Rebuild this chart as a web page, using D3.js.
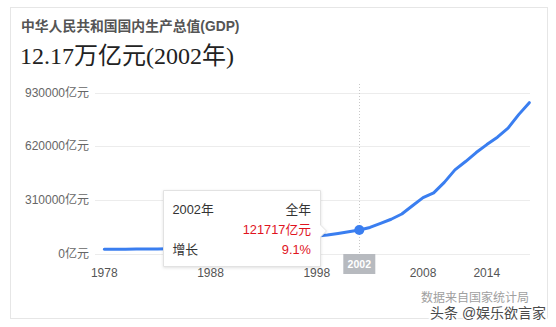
<!DOCTYPE html>
<html>
<head>
<meta charset="utf-8">
<script src="https://cdn.jsdelivr.net/npm/d3@7"></script>
<style>
  html, body { margin: 0; padding: 0; background: #ffffff; }
  svg { display: block; }
  text { font-family: Arial, "Liberation Sans", "Noto Sans CJK SC", sans-serif; }
</style>
</head>
<body>
<svg id="chart" width="556" height="327"></svg>
<script>
// China GDP, 1978-2018 (亿元)
const years = d3.range(1978, 2019);
const gdp = [
  3679, 4101, 4588, 4936, 5373, 6021, 7279, 9099, 10376, 12175,
  15180, 17180, 18873, 22006, 27195, 35673, 48638, 61340, 71814, 79715,
  85196, 90564, 100280, 110863, 121717, 137422, 161840, 187319, 219439, 270232,
  319516, 349081, 413030, 489301, 540367, 595244, 643974, 689052, 744127, 827122,
  900309
];
const yTicks = [0, 310000, 620000, 930000];
const xTicks = [1978, 1988, 1998, 2008, 2014];

// highlighted year and its growth rate
const focusYear = 2002;
const focusGrowth = "9.1%";

const title = "中华人民共和国国内生产总值(GDP)";
const source = "数据来自国家统计局";
const watermark = "头条 @娱乐欲言家";

const svg = d3.select("#chart");

// card
svg.append("rect")
  .attr("x", 10.5).attr("y", 7.5).attr("width", 537).attr("height", 311)
  .attr("fill", "#fff").attr("stroke", "#e6e6e6");

svg.append("text")
  .attr("x", 21).attr("y", 31)
  .attr("font-size", 13.8).attr("font-weight", "bold").attr("fill", "#555")
  .text(title);

const focusIdx = years.indexOf(focusYear);
const focusVal = gdp[focusIdx];

svg.append("text")
  .attr("x", 20).attr("y", 64)
  .attr("font-size", 24).attr("fill", "#222")
  .style("font-family", "'Liberation Serif', 'Times New Roman', 'Noto Sans CJK SC', serif")
  .text(`${(focusVal / 10000).toFixed(2)}万亿元(${focusYear}年)`);

// scales: gridlines use the outer band, the series sits slightly inset
const x = d3.scaleLinear().domain([1978, 2018]).range([104.3, 529.3]);
const yGrid = d3.scaleLinear().domain([0, 930000]).range([253.5, 92.5]);
const y = d3.scaleLinear().domain([0, 930000]).range([249.9, 97.8]);

// horizontal gridlines + labels
const grid = svg.append("g");
grid.selectAll("line").data(yTicks).join("line")
  .attr("x1", 95).attr("x2", 530)
  .attr("y1", d => Math.round(yGrid(d)) + 0.5).attr("y2", d => Math.round(yGrid(d)) + 0.5)
  .attr("stroke", "#ececec").attr("stroke-width", 1);
grid.selectAll("text").data(yTicks).join("text")
  .attr("x", 89).attr("y", d => yGrid(d) + 4)
  .attr("text-anchor", "end").attr("font-size", 12).attr("fill", "#666")
  .text(d => d + "亿元");

// x tick labels
svg.append("g").selectAll("text").data(xTicks).join("text")
  .attr("x", d => x(d)).attr("y", 277)
  .attr("text-anchor", "middle").attr("font-size", 12).attr("fill", "#555")
  .text(d => d);

// dotted crosshair
svg.append("line")
  .attr("x1", Math.round(x(focusYear)) + 0.5).attr("x2", Math.round(x(focusYear)) + 0.5)
  .attr("y1", 84).attr("y2", 254)
  .attr("stroke", "#c8c8c8").attr("stroke-width", 1).attr("stroke-dasharray", "1,2");

// series line
const line = d3.line().x((d, i) => x(years[i])).y(d => y(d)).curve(d3.curveLinear);
svg.append("path")
  .datum(gdp)
  .attr("d", line)
  .attr("fill", "none").attr("stroke", "#3a7ef0").attr("stroke-width", 3)
  .attr("stroke-linejoin", "round").attr("stroke-linecap", "round");

// focus point
svg.append("circle")
  .attr("cx", x(focusYear)).attr("cy", y(focusVal)).attr("r", 5)
  .attr("fill", "#3a7ef0");

// x hover label
const hx = x(focusYear);
svg.append("rect")
  .attr("x", hx - 16).attr("y", 254).attr("width", 32).attr("height", 20)
  .attr("fill", "#b7babf");
svg.append("text")
  .attr("x", hx).attr("y", 268)
  .attr("text-anchor", "middle").attr("font-size", 10.5).attr("font-weight", "bold").attr("fill", "#fff")
  .text(focusYear);

// tooltip
const defs = svg.append("defs");
const f = defs.append("filter").attr("id", "shadow").attr("x", "-10%").attr("y", "-10%").attr("width", "120%").attr("height", "130%");
f.append("feDropShadow").attr("dx", 0).attr("dy", 1).attr("stdDeviation", 1.5).attr("flood-color", "#000").attr("flood-opacity", 0.12);

const tip = svg.append("g").attr("filter", "url(#shadow)");
const tx = 163.5, ty = 190.5, tw = 157, th = 76;
const ay = y(focusVal) + 1;
tip.append("path")
  .attr("d", `M${tx},${ty} H${tx + tw} V${ay - 6} L${tx + tw + 6},${ay} L${tx + tw},${ay + 6} V${ty + th} H${tx} Z`)
  .attr("fill", "#fff").attr("stroke", "#e2e2e2");

const tipText = svg.append("g").attr("font-size", 12.8);
tipText.append("text").attr("x", 172.5).attr("y", 214).attr("fill", "#333").text(focusYear + "年");
tipText.append("text").attr("x", 311).attr("y", 214).attr("text-anchor", "end").attr("fill", "#333").text("全年");
tipText.append("text").attr("x", 311).attr("y", 234).attr("text-anchor", "end").attr("fill", "#e0141e").text(focusVal + "亿元");
tipText.append("text").attr("x", 172.5).attr("y", 254).attr("fill", "#333").text("增长");
tipText.append("text").attr("x", 311).attr("y", 254).attr("text-anchor", "end").attr("fill", "#e0141e").text(focusGrowth);

// source note and overlay caption
svg.append("text")
  .attr("x", 421).attr("y", 302)
  .attr("font-size", 12).attr("fill", "#a0a0a0")
  .text(source);
svg.append("text")
  .attr("x", 430).attr("y", 318)
  .attr("font-size", 14).attr("fill", "#4a4a4a")
  .attr("stroke", "#fff").attr("stroke-width", 2.5).attr("paint-order", "stroke")
  .text(watermark);
</script>
</body>
</html>
